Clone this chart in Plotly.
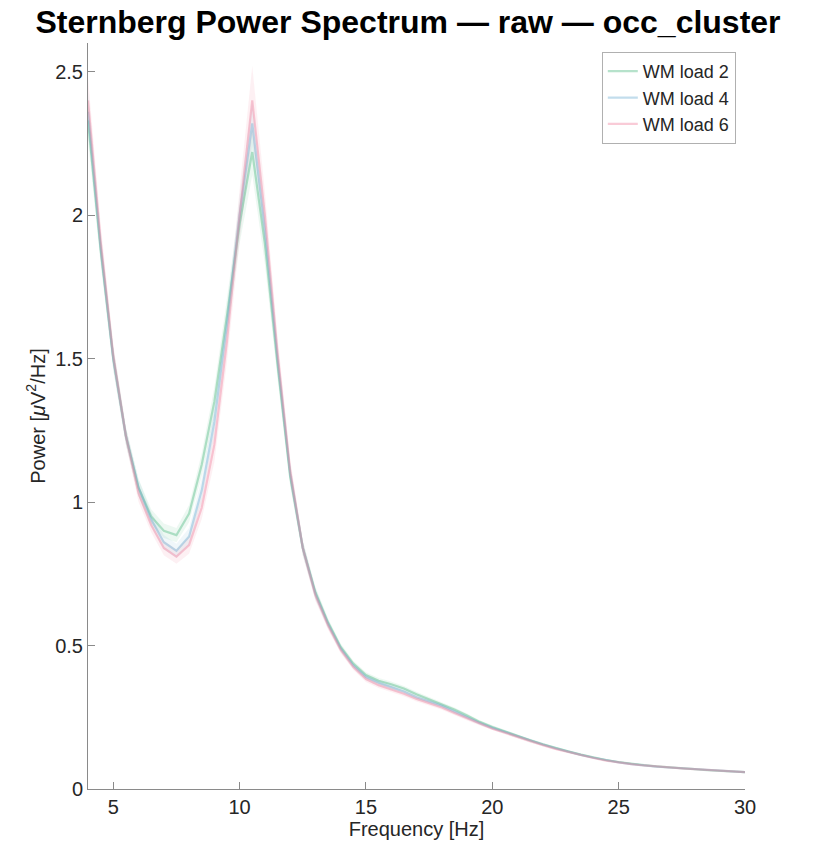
import plotly.graph_objects as go

freqs = [4.0, 4.5, 5.0, 5.5, 6.0, 6.5, 7.0, 7.5, 8.0, 8.5, 9.0, 9.5, 10.0, 10.5, 11.0, 11.5,
         12.0, 12.5, 13.0, 13.5, 14.0, 14.5, 15.0, 15.5, 16.0, 16.5, 17.0, 17.5, 18.0, 18.5,
         19.0, 19.5, 20.0, 20.5, 21.0, 21.5, 22.0, 22.5, 23.0, 23.5, 24.0, 24.5, 25.0, 25.5,
         26.0, 26.5, 27.0, 27.5, 28.0, 28.5, 29.0, 29.5, 30.0]

load2 = [2.33, 1.88, 1.50, 1.23, 1.05, 0.95, 0.90, 0.885, 0.96, 1.13, 1.35, 1.65, 1.97, 2.22, 1.90, 1.48,
         1.09, 0.84, 0.685, 0.58, 0.495, 0.437, 0.397, 0.377, 0.365, 0.35, 0.33, 0.313, 0.295, 0.277,
         0.256, 0.234, 0.216, 0.2, 0.185, 0.17, 0.156, 0.143, 0.131, 0.12, 0.11, 0.101, 0.094, 0.088,
         0.083, 0.079, 0.075, 0.072, 0.069, 0.066, 0.063, 0.061, 0.059]

load4 = [2.36, 1.89, 1.50, 1.23, 1.05, 0.94, 0.86, 0.83, 0.88, 1.04, 1.28, 1.62, 2.00, 2.32, 1.95, 1.50,
         1.10, 0.84, 0.68, 0.575, 0.49, 0.43, 0.39, 0.37, 0.355, 0.34, 0.32, 0.305, 0.29, 0.27,
         0.25, 0.23, 0.213, 0.198, 0.183, 0.168, 0.155, 0.142, 0.13, 0.119, 0.109, 0.1, 0.093, 0.087,
         0.082, 0.078, 0.075, 0.072, 0.069, 0.066, 0.063, 0.061, 0.059]

load6 = [2.40, 1.91, 1.51, 1.23, 1.03, 0.92, 0.84, 0.81, 0.85, 0.98, 1.20, 1.56, 2.00, 2.40, 2.00, 1.52,
         1.11, 0.84, 0.675, 0.57, 0.485, 0.425, 0.383, 0.362, 0.347, 0.332, 0.314, 0.299, 0.284, 0.265,
         0.246, 0.227, 0.21, 0.196, 0.181, 0.166, 0.153, 0.14, 0.129, 0.118, 0.108, 0.099, 0.092, 0.087,
         0.082, 0.078, 0.075, 0.072, 0.069, 0.066, 0.063, 0.061, 0.059]

sem2 = [0.07, 0.05, 0.04, 0.03, 0.03, 0.025, 0.025, 0.025, 0.03, 0.04, 0.05, 0.06, 0.07, 0.08, 0.07, 0.05,
        0.035, 0.025, 0.02, 0.015, 0.012, 0.01, 0.01, 0.01, 0.01, 0.009, 0.009, 0.008, 0.008, 0.007,
        0.007, 0.006, 0.006, 0.005, 0.005, 0.005, 0.004, 0.004, 0.004, 0.003, 0.003, 0.003, 0.003, 0.003,
        0.002, 0.002, 0.002, 0.002, 0.002, 0.002, 0.002, 0.002, 0.002]

sem4 = [0.07, 0.05, 0.04, 0.03, 0.03, 0.025, 0.025, 0.025, 0.03, 0.04, 0.05, 0.06, 0.07, 0.08, 0.07, 0.05,
        0.035, 0.025, 0.02, 0.015, 0.012, 0.01, 0.01, 0.01, 0.01, 0.009, 0.009, 0.008, 0.008, 0.007,
        0.007, 0.006, 0.006, 0.005, 0.005, 0.005, 0.004, 0.004, 0.004, 0.003, 0.003, 0.003, 0.003, 0.003,
        0.002, 0.002, 0.002, 0.002, 0.002, 0.002, 0.002, 0.002, 0.002]

sem6 = [0.08, 0.06, 0.04, 0.03, 0.03, 0.025, 0.025, 0.025, 0.03, 0.04, 0.06, 0.07, 0.09, 0.12, 0.08, 0.06,
        0.04, 0.025, 0.02, 0.015, 0.012, 0.01, 0.01, 0.01, 0.01, 0.009, 0.009, 0.008, 0.008, 0.007,
        0.007, 0.006, 0.006, 0.005, 0.005, 0.005, 0.004, 0.004, 0.004, 0.003, 0.003, 0.003, 0.003, 0.003,
        0.002, 0.002, 0.002, 0.002, 0.002, 0.002, 0.002, 0.002, 0.002]

names = ["WM load 2", "WM load 4", "WM load 6"]
means = [load2, load4, load6]
sems = [sem2, sem4, sem6]
line_colors = ["rgba(80,185,130,0.42)", "rgba(110,175,210,0.42)", "rgba(240,130,160,0.42)"]
fill_colors = ["rgba(80,185,130,0.10)", "rgba(110,175,210,0.10)", "rgba(240,130,160,0.12)"]

FONT = "Liberation Sans, Arial, sans-serif"

fig = go.Figure()
for m, s, fc in zip(means, sems, fill_colors):
    upper = [a + b for a, b in zip(m, s)]
    lower = [a - b for a, b in zip(m, s)]
    fig.add_trace(go.Scatter(x=freqs + freqs[::-1], y=upper + lower[::-1], fill="toself",
                             fillcolor=fc, line=dict(width=0), hoverinfo="skip", showlegend=False))
for m, n, lc in zip(means, names, line_colors):
    fig.add_trace(go.Scatter(x=freqs, y=m, mode="lines", name=n, line=dict(color=lc, width=2.2)))

axis_common = dict(showline=True, linecolor="#8a8a8a", linewidth=1, ticks="inside", ticklen=7,
                   tickcolor="#8a8a8a", showgrid=False, zeroline=False, mirror=False,
                   tickfont=dict(family=FONT, size=20, color="#262626"))

fig.update_layout(
    width=816, height=853,
    margin=dict(l=88, r=71, t=43, b=64),
    paper_bgcolor="white", plot_bgcolor="white",
    title=dict(text="<b>Sternberg Power Spectrum — raw — occ_cluster</b>", x=0.5, xanchor="center",
               y=0.974, yanchor="middle",
               font=dict(family=FONT, size=32, color="#000000")),
    xaxis=dict(range=[4, 30], tickvals=[5, 10, 15, 20, 25, 30],
               title=dict(text="Frequency [Hz]", standoff=2,
                          font=dict(family=FONT, size=20, color="#262626")),
               **axis_common),
    yaxis=dict(range=[0, 2.6], tickvals=[0, 0.5, 1, 1.5, 2, 2.5], ticktext=["0", "0.5", "1", "1.5", "2", "2.5"],
               title=dict(text="Power [<i>μ</i>V<sup>2</sup>/Hz]", standoff=4,
                          font=dict(family=FONT, size=20, color="#262626")),
               **axis_common),
    legend=dict(x=0.986, y=0.988, xanchor="right", yanchor="top", bgcolor="white",
                bordercolor="#b0b0b0", borderwidth=1, tracegroupgap=0, itemwidth=30,
                font=dict(family=FONT, size=18, color="#262626")),
    showlegend=True,
)

fig.write_html("out.html")
